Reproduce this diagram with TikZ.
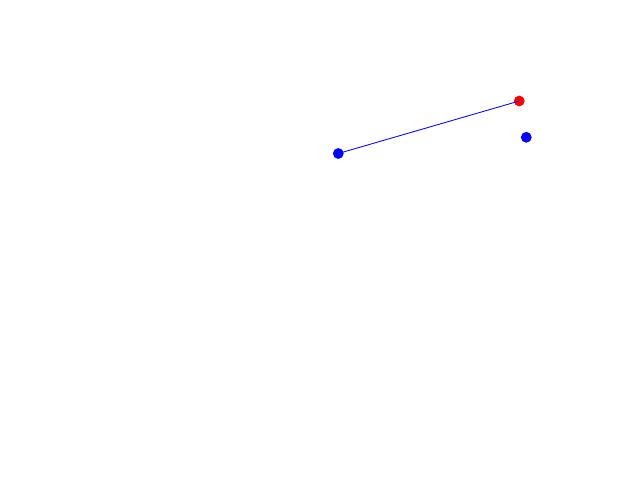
\documentclass[tikz,border=0pt]{standalone}
\usepackage{tikz}
\tikzset{dot/.style={circle,fill=#1,inner sep=0pt,minimum size=2.7mm}}
\begin{document}
\begin{tikzpicture}[x=0.025cm,y=-0.025cm]
                \useasboundingbox (0,0) rectangle (640,480);
                \node[dot=blue] (p1) at (338.3,153.5) {};
                \node[dot=red] (p2) at (519.3,101) {};
                \node[dot=blue] (p3) at (526.3,137.3) {};
                \draw[blue,line width=0.6pt] (p1.center) -- (p2.center);
            \end{tikzpicture}
\end{document}
